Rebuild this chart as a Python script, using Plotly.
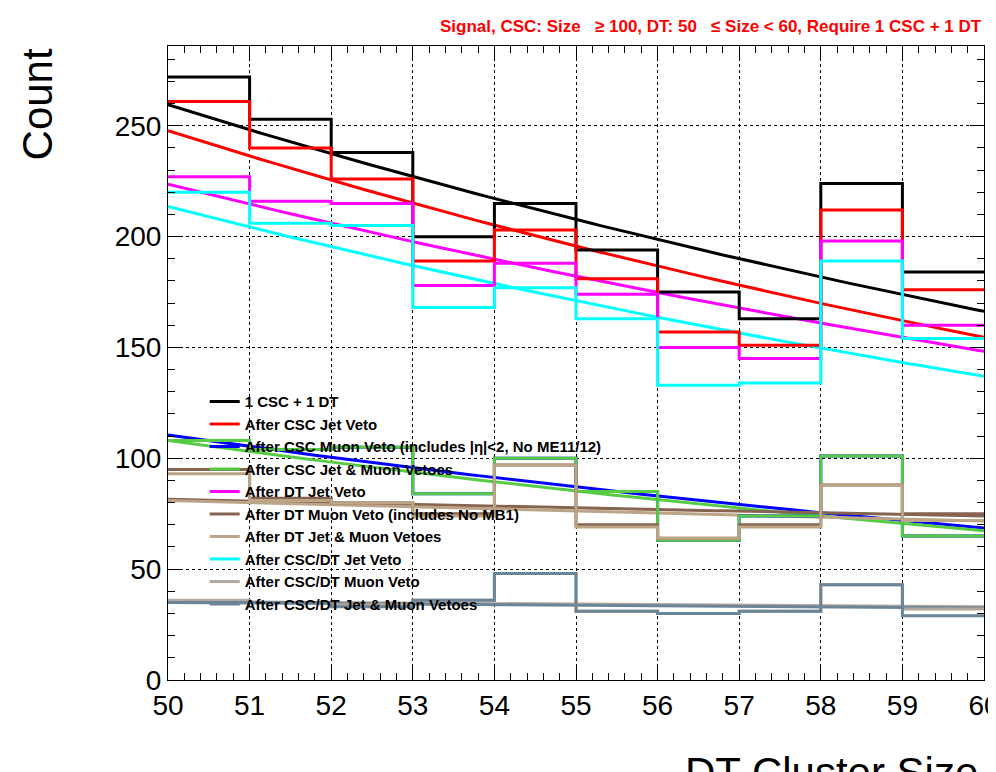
import numpy as np
import plotly.graph_objects as go

edges = list(range(50, 61))

names = ["1 CSC + 1 DT", "After CSC Jet Veto",
         "After CSC Muon Veto (includes |\u03b7|<2, No ME11/12)",
         "After CSC Jet & Muon Vetoes", "After DT Jet Veto",
         "After DT Muon Veto (includes No MB1)", "After DT Jet & Muon Vetoes",
         "After CSC/DT Jet Veto", "After CSC/DT Muon Veto",
         "After CSC/DT Jet & Muon Vetoes"]
colors = ["black", "red", "blue", "#55cc44", "magenta", "#866450", "#bca486",
          "cyan", "#b4a89e", "#6a8498"]

counts = [
    [272, 253, 238, 200, 215, 194, 175, 163, 224, 184],
    [261, 240, 226, 189, 203, 181, 157, 151, 212, 176],
    [108, 104, 105, 84, 100, 85, 63, 74, 101, 65],
    [108, 104, 105, 84, 100, 85, 63, 74, 101, 65],
    [227, 216, 215, 178, 188, 174, 150, 145, 198, 160],
    [95, 82, 80, 75, 97, 70, 64, 70, 88, 75],
    [93, 81, 80, 74, 97, 69, 64, 69, 88, 72],
    [220, 206, 205, 168, 177, 163, 133, 134, 189, 154],
    [36, 35, 34, 36, 48, 31, 30, 31, 43, 32],
    [35, 35, 33, 36, 48, 31, 30, 31, 43, 29],
]
# exponential fit curves: value at x=50 and x=60
fit_start = [259.5, 247.8, 110.5, 108.0, 223.7, 81.5, 81.0, 213.6, 35.5, 35.0]
fit_end = [166.3, 154.6, 68.6, 67.3, 148.3, 74.0, 71.7, 137.0, 33.0, 32.5]

fig = go.Figure()
xf = np.linspace(50, 60, 101)
for c, a, b in zip(colors, fit_start, fit_end):
    fig.add_trace(go.Scatter(x=xf, y=a * (b / a) ** ((xf - 50) / 10), mode="lines",
                             line=dict(color=c, width=3), showlegend=False))
for n, c, v in zip(names, colors, counts):
    fig.add_trace(go.Scatter(x=edges, y=v + [v[-1]], mode="lines", name="<b>" + n + "</b>",
                             line=dict(color=c, width=3, shape="hv")))

ax = dict(showline=True, linecolor="black", linewidth=1, mirror="ticks",
          ticks="inside", ticklen=14, tickcolor="black", showgrid=True,
          gridcolor="black", griddash="dot", gridwidth=0.7, zeroline=False,
          automargin=False,
          tickfont=dict(family="Liberation Sans", size=28, color="black"),
          minor=dict(ticks="inside", ticklen=7, tickcolor="black", showgrid=False))
fig.update_xaxes(ax, range=[50, 60], dtick=1, minor_dtick=0.2)
fig.update_yaxes(ax, range=[0, 286], dtick=50, minor_dtick=10)

fig.update_layout(
    width=996, height=772, plot_bgcolor="white", paper_bgcolor="white",
    margin=dict(l=160, r=20, t=38, b=100, autoexpand=False),
    legend=dict(x=0.045, y=0.465, xanchor="left", yanchor="top",
                bgcolor="rgba(0,0,0,0)", itemwidth=30, tracegroupgap=0,
                font=dict(family="Liberation Sans", size=15, color="black")),
    annotations=[
        dict(text="<b>Signal, CSC: Size   \u2265 100, DT: 50   \u2264 Size < 60, Require 1 CSC + 1 DT</b>",
             x=1.0, y=1.0, xref="paper", yref="paper", xanchor="right",
             yanchor="bottom", yshift=8, showarrow=False,
             font=dict(family="Liberation Sans", size=17, color="red")),
        dict(text="Count", x=-0.16, y=1.0, xref="paper", yref="paper", textangle=-90,
             xanchor="center", yanchor="top", showarrow=False,
             font=dict(family="Liberation Sans", size=42, color="black")),
        dict(text="DT Cluster Size", x=0.995, y=-0.105, xref="paper", yref="paper",
             xanchor="right", yanchor="top", showarrow=False,
             font=dict(family="Liberation Sans", size=42, color="black")),
    ],
)
fig.write_html("out.html")
